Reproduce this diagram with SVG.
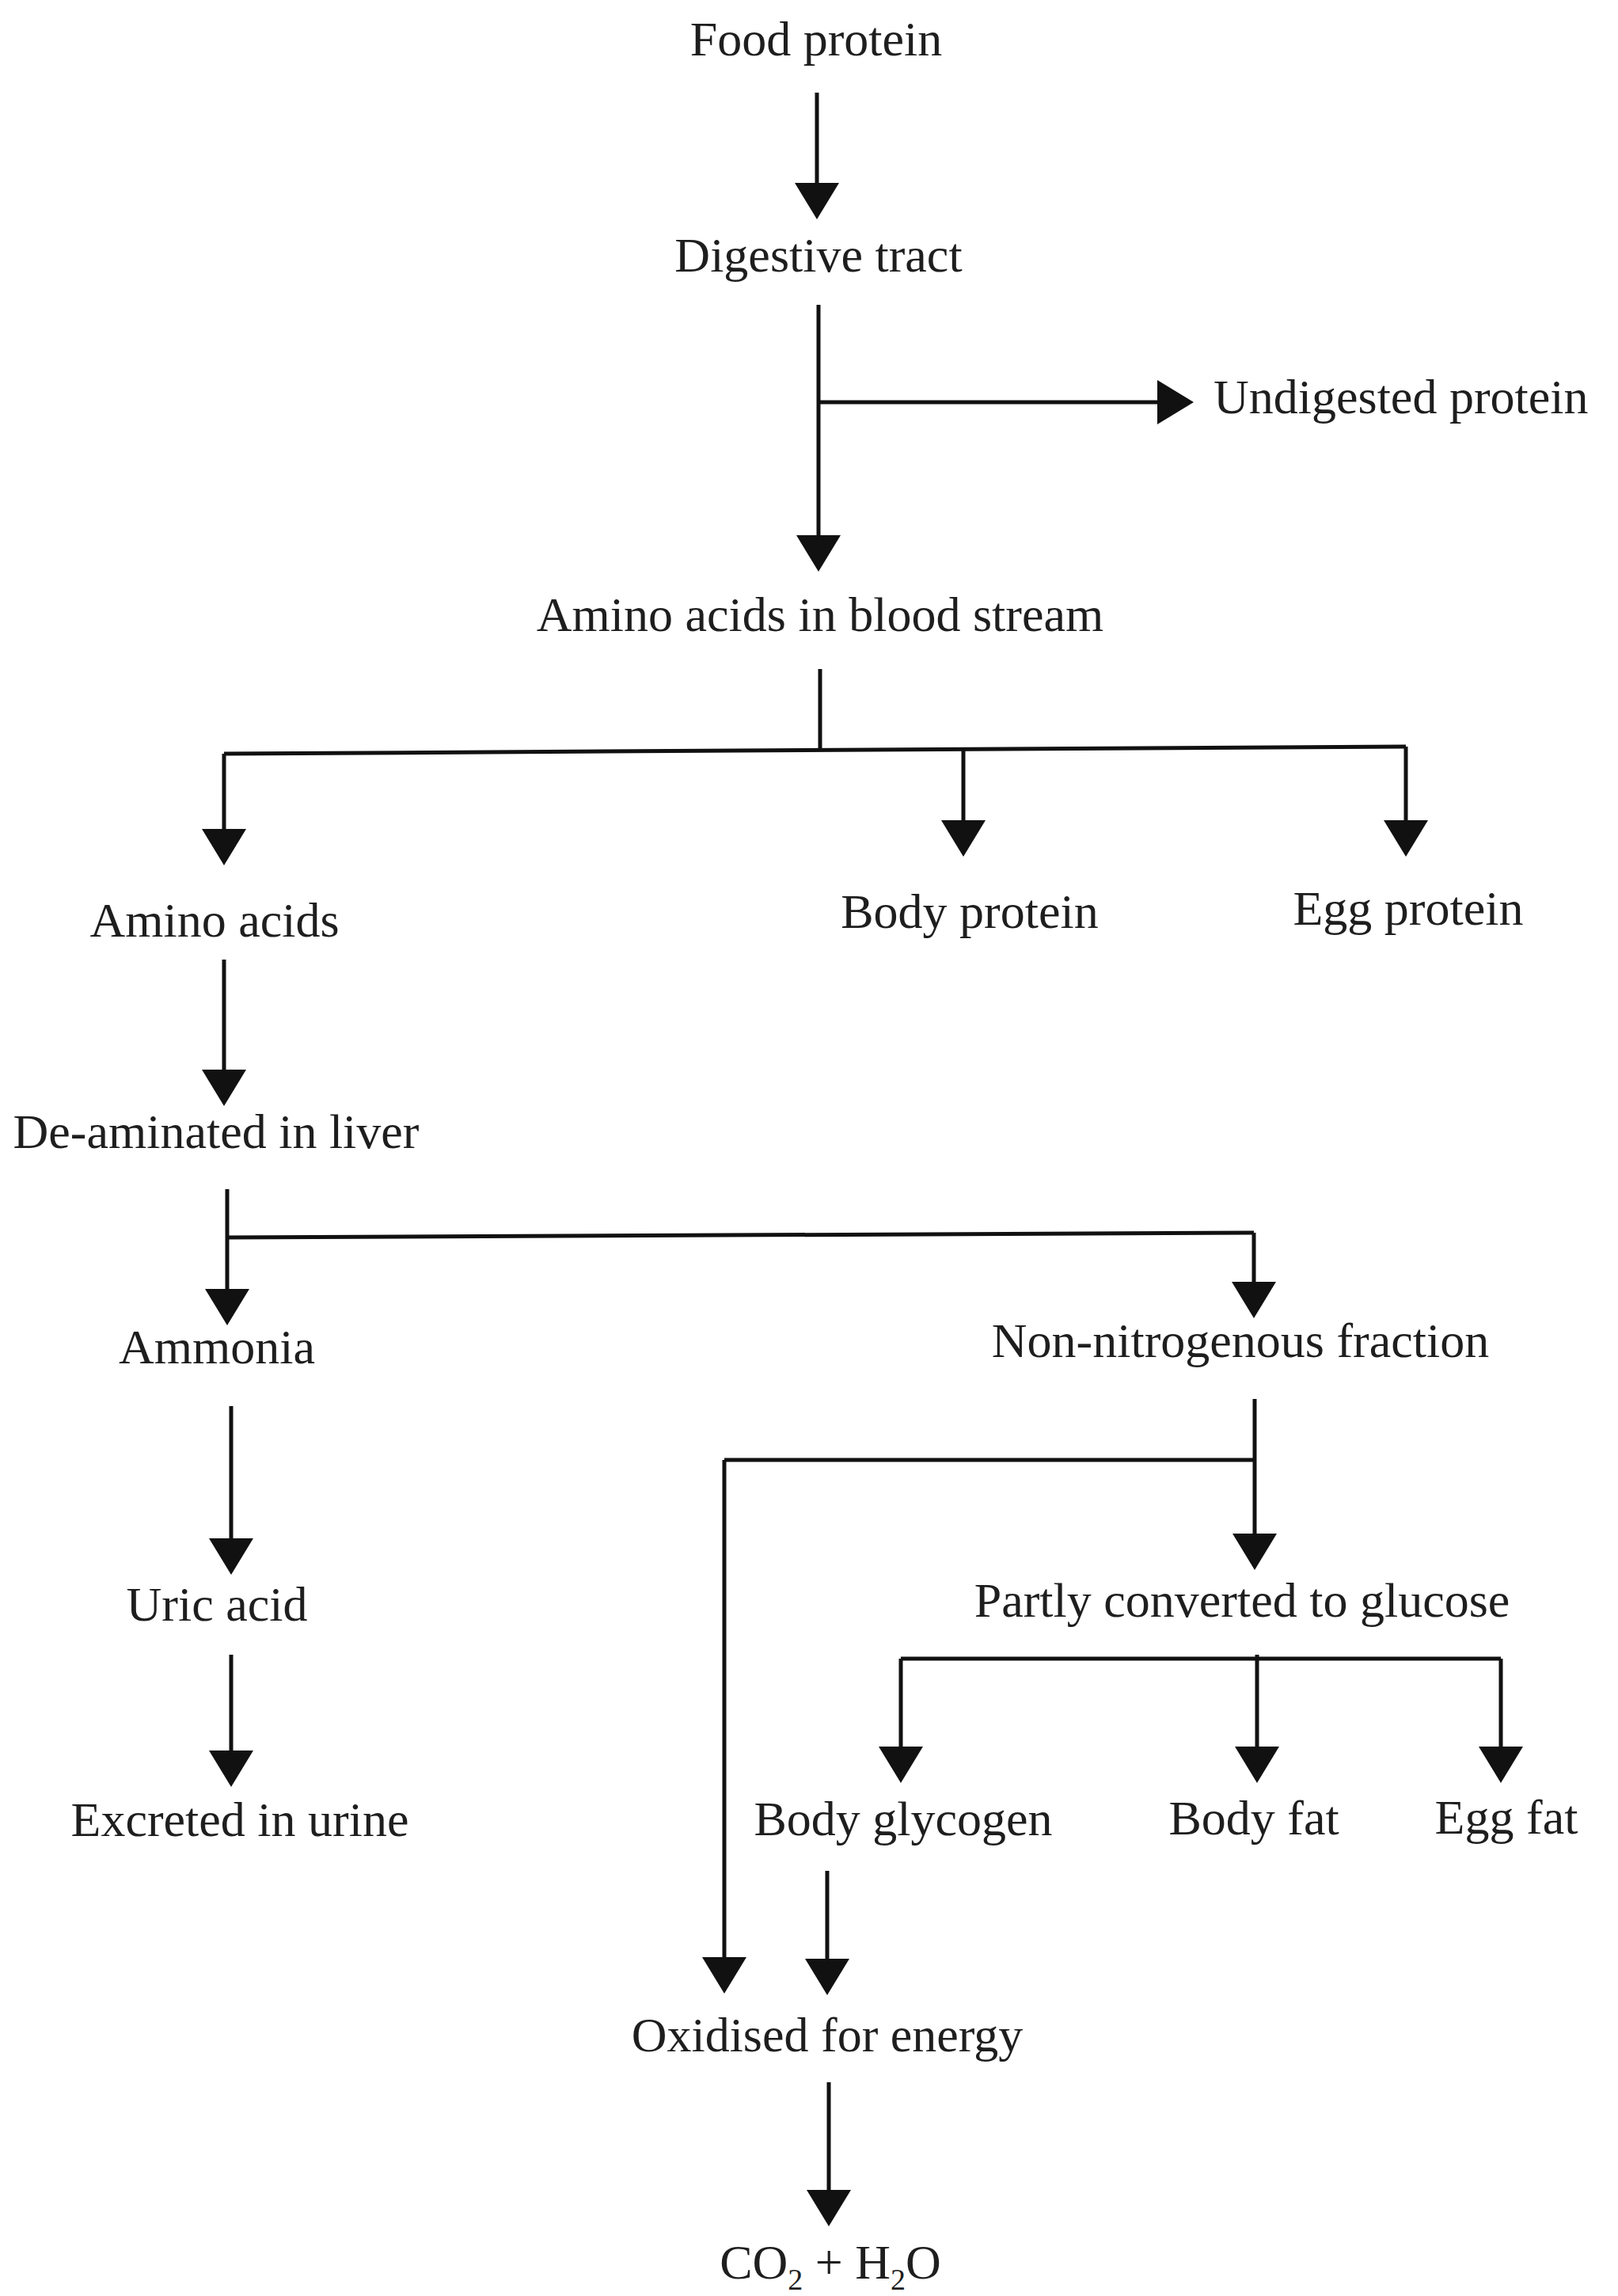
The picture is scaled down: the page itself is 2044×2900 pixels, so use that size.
<svg xmlns="http://www.w3.org/2000/svg" width="2044" height="2900" viewBox="0 0 2044 2900">
<style>
text{font-family:"Liberation Serif","Times New Roman",serif;font-size:62px;fill:#1e1e1e;text-anchor:middle}
.c{fill:none;stroke:#111;stroke-width:5}
.a{fill:none;stroke:#111;stroke-width:5;marker-end:url(#ah)}
.sub{font-size:38px}
</style>
<defs>
<marker id="ah" markerUnits="userSpaceOnUse" viewBox="0 0 46 56" refX="26" refY="28" markerWidth="46" markerHeight="56" orient="auto">
<path d="M0,0 L46,28 L0,56 z" fill="#111"/>
</marker>
</defs>
<rect width="2044" height="2900" fill="#fff"/>
<g id="connectors">
<path class="a" d="M1032,117 V257"/>
<path class="a" d="M1034,385 V702"/>
<path class="a" d="M1034,508 H1488"/>
<path class="c" d="M1036,845 V948"/>
<path class="c" d="M283,952 L1776,943"/>
<path class="a" d="M283,952 V1073"/>
<path class="a" d="M1217,947 V1062"/>
<path class="a" d="M1776,943 V1062"/>
<path class="a" d="M283,1212 V1377"/>
<path class="a" d="M287,1502 V1654"/>
<path class="c" d="M287,1563 L1584,1557"/>
<path class="a" d="M1584,1557 V1645"/>
<path class="a" d="M292,1776 V1969"/>
<path class="a" d="M292,2090 V2237"/>
<path class="a" d="M1585,1767 V1963"/>
<path class="c" d="M1585,1844 H915"/>
<path class="a" d="M915,1844 V2498"/>
<path class="c" d="M1138,2095 H1896"/>
<path class="a" d="M1138,2095 V2232"/>
<path class="a" d="M1588,2090 V2232"/>
<path class="a" d="M1896,2095 V2232"/>
<path class="a" d="M1045,2363 V2500"/>
<path class="a" d="M1047,2630 V2792"/>
</g>
<g id="n-food"><text x="1031" y="70">Food protein</text></g>
<g id="n-digestive"><text x="1034" y="343">Digestive tract</text></g>
<g id="n-undigested"><text x="1533" y="522" style="text-anchor:start">Undigested protein</text></g>
<g id="n-blood"><text x="1036" y="797">Amino acids in blood stream</text></g>
<g id="n-amino"><text x="271" y="1183">Amino acids</text></g>
<g id="n-bodyprotein"><text x="1225" y="1172">Body protein</text></g>
<g id="n-eggprotein"><text x="1779" y="1168">Egg protein</text></g>
<g id="n-deaminated"><text x="273" y="1450">De-aminated in liver</text></g>
<g id="n-ammonia"><text x="274" y="1722">Ammonia</text></g>
<g id="n-nonnitro"><text x="1567" y="1714">Non-nitrogenous fraction</text></g>
<g id="n-uric"><text x="274" y="2047">Uric acid</text></g>
<g id="n-excreted"><text x="303" y="2319">Excreted in urine</text></g>
<g id="n-glucose"><text x="1569" y="2042">Partly converted to glucose</text></g>
<g id="n-glycogen"><text x="1141" y="2318">Body glycogen</text></g>
<g id="n-bodyfat"><text x="1584" y="2317">Body fat</text></g>
<g id="n-eggfat"><text x="1903" y="2316">Egg fat</text></g>
<g id="n-oxidised"><text x="1045" y="2591">Oxidised for energy</text></g>
<g id="n-co2"><text x="1049" y="2878">CO<tspan class="sub" dy="14">2</tspan><tspan dy="-14"> + H</tspan><tspan class="sub" dy="14">2</tspan><tspan dy="-14">O</tspan></text></g>
</svg>
